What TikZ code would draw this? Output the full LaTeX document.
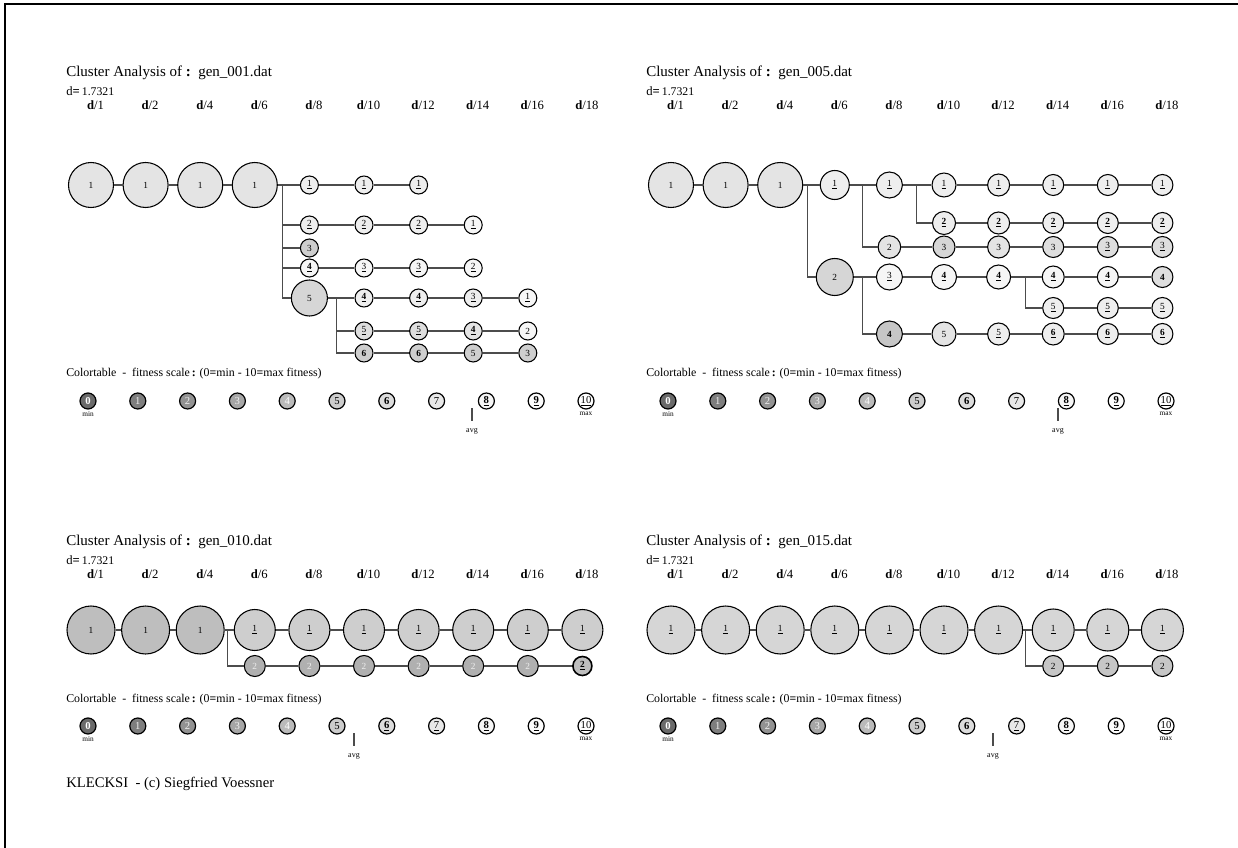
\documentclass[tikz,border=0pt]{standalone}
\usepackage{fontspec}
\setmainfont{Liberation Serif}
\definecolor{c0}{HTML}{6A6A6A}
\definecolor{c1}{HTML}{7E7E7E}
\definecolor{c2}{HTML}{929292}
\definecolor{c3}{HTML}{A6A6A6}
\definecolor{c4}{HTML}{BABABA}
\definecolor{c5}{HTML}{CCCCCC}
\definecolor{c6}{HTML}{DCDCDC}
\definecolor{c7}{HTML}{E8E8E8}
\definecolor{c8}{HTML}{F6F6F6}
\definecolor{c9}{HTML}{FCFCFC}
\definecolor{c10}{HTML}{FFFFFF}
\definecolor{lt}{HTML}{EEEEEE}
\definecolor{t0}{HTML}{F6F6F6}
\definecolor{t1}{HTML}{EEEEEE}
\definecolor{t2}{HTML}{E4E4E4}
\definecolor{t3}{HTML}{DEDEDE}
\definecolor{t4}{HTML}{D6D6D6}
\definecolor{t5}{HTML}{CECECE}
\definecolor{t6}{HTML}{C6C6C6}
\definecolor{t7}{HTML}{BEBEBE}
\definecolor{t8}{HTML}{B0B0B0}
\newcommand\ulab[1]{\underline{#1}}
\newcommand\blab[1]{\textbf{#1}}
\newcommand\bulab[1]{\underline{\textbf{#1}}}
\newcommand\panelhead[4]{%
  \node[ttl] (#1title) at ({66+#2},{#3}) {Cluster Analysis of \textbf{:}\ \ gen\_#4.dat};
  \node[dval] (#1dval) at ({66+#2},{#3+19}) {d\textbf{=}\,{\fontsize{8.8}{9}\selectfont 1.7321}};
  \foreach \k/\t in {0/1,1/2,2/4,3/6,4/8,5/10,6/12,7/14,8/16,9/18}
    \node[hd] (#1h\k) at ({95.5+#2+54.6*\k},{#3+33}) {\textbf{d}/\t};
}
\newcommand\ctable[5]{%
  \node[cttl] (#1ctt) at ({66+#2},{#3}) {Colortable~ - ~fitness scale\,\textbf{:} (0\textbf{=}min - 10\textbf{=}max fitness)};
  \foreach \i/\fc/\tc/\w in {0/c0/white/1,1/c1/lt/0,2/c2/lt/0,3/c3/lt/0,4/c4/white/0,5/c5/black/0,6/c6/black/1,7/c7/black/0,8/c8/black/1,9/c9/black/1,10/c10/black/0}
    \node[ct,fill=\fc,text=\tc] (#1k\i) at ({88+#2+49.8*\i},{#3+24}) {\ifnum\w=1 \bfseries\fi\ifnum\i<#5 \i\else\underline{\i}\fi};
  \node[tiny] (#1min) at ({88+#2},{#3+37}) {min};
  \node[tiny] (#1max) at ({586+#2},{#3+37}) {max};
  \coordinate (#1at) at ({#4},{#3+31});
  \coordinate (#1ab) at ({#4},{#3+44});
  \draw[ln] (#1at) -- (#1ab);
  \node[tiny,font=\fontsize{6}{7}\selectfont] (#1avg) at ({#4},{#3+54}) {avg};
}
\begin{document}
\begin{tikzpicture}[x=0.75pt,y=-0.75pt,
  cn/.style 2 args={circle,draw=black,line width=0.8pt,inner sep=0pt,minimum size={1.5pt*#1},fill=#2,font=\fontsize{7}{8}\selectfont},
  ct/.style={circle,draw=black,line width=0.9pt,inner sep=0pt,minimum size=12pt,font=\fontsize{8}{9}\selectfont},
  ln/.style={draw=black!70,line width=0.8pt},
  ttl/.style={anchor=base west,inner sep=0pt,font=\fontsize{11.25}{13}\selectfont},
  dval/.style={anchor=base west,inner sep=0pt,font=\fontsize{9.5}{10}\selectfont},
  hd/.style={anchor=base,inner sep=0pt,font=\fontsize{9.5}{11}\selectfont},
  cttl/.style={anchor=base west,inner sep=0pt,font=\fontsize{8.9}{10}\selectfont},
  tiny/.style={inner sep=0pt,font=\fontsize{5.5}{6}\selectfont},
]
\useasboundingbox (0,0) rectangle (1238,848);
\draw[line width=1.6pt] (1238,4) -- (5,4) -- (5,848);

% ================= Panel 1 (gen_001) =================
\panelhead{A}{0}{77}{001}
\node[cn={22.5}{t2}] (A0) at (91,185) {1};
\node[cn={22.5}{t2}] (A1) at (145.6,185) {1};
\node[cn={22.5}{t2}] (A2) at (200.2,185) {1};
\node[cn={22.5}{t2}] (A3) at (254.8,185) {1};
\draw[ln] (A0) -- (A1) -- (A2) -- (A3);
\coordinate (Ab1) at (282.1,185);
\node[cn={9}{t1}] (Ar14) at (309.4,185) {\ulab{1}};
\node[cn={9}{t1}] (Ar15) at (364,185) {\ulab{1}};
\node[cn={9}{t1}] (Ar16) at (418.6,185) {\ulab{1}};
\draw[ln] (A3) -- (Ar14) -- (Ar15) -- (Ar16);
\node[cn={9}{t1}] (Ar24) at (309.4,225) {\ulab{2}};
\node[cn={9}{t1}] (Ar25) at (364,225) {\ulab{2}};
\node[cn={9}{t1}] (Ar26) at (418.6,225) {\ulab{2}};
\node[cn={9}{t0}] (Ar27) at (473.2,225) {\ulab{1}};
\draw[ln] (Ab1) |- (Ar24);
\draw[ln] (Ar24) -- (Ar25) -- (Ar26) -- (Ar27);
\node[cn={9}{t5}] (Ar34) at (309.4,248) {3};
\draw[ln] (Ab1) |- (Ar34);
\node[cn={9}{t0}] (Ar44) at (309.4,268) {\bulab{4}};
\node[cn={9}{t0}] (Ar45) at (364,268) {\ulab{3}};
\node[cn={9}{t0}] (Ar46) at (418.6,268) {\ulab{3}};
\node[cn={9}{t0}] (Ar47) at (473.2,268) {\ulab{2}};
\draw[ln] (Ab1) |- (Ar44);
\draw[ln] (Ar44) -- (Ar45) -- (Ar46) -- (Ar47);
\node[cn={18}{t4}] (Ar54) at (309.4,298) {5};
\draw[ln] (Ab1) |- (Ar54);
\coordinate (Ab2) at (336.7,298);
\node[cn={9}{t1}] (As15) at (364,298) {\bulab{4}};
\node[cn={9}{t1}] (As16) at (418.6,298) {\bulab{4}};
\node[cn={9}{t1}] (As17) at (473.2,298) {\ulab{3}};
\node[cn={9}{t0}] (As18) at (527.8,298) {\ulab{1}};
\draw[ln] (Ar54) -- (As15) -- (As16) -- (As17) -- (As18);
\node[cn={9}{t3}] (As25) at (364,331) {\ulab{5}};
\node[cn={9}{t3}] (As26) at (418.6,331) {\ulab{5}};
\node[cn={9}{t2}] (As27) at (473.2,331) {\bulab{4}};
\node[cn={9}{t0}] (As28) at (527.8,331) {2};
\draw[ln] (Ab2) |- (As25);
\draw[ln] (As25) -- (As26) -- (As27) -- (As28);
\node[cn={9}{t5}] (As35) at (364,353) {\blab{6}};
\node[cn={9}{t5}] (As36) at (418.6,353) {\blab{6}};
\node[cn={9}{t5}] (As37) at (473.2,353) {5};
\node[cn={9}{t5}] (As38) at (527.8,353) {3};
\draw[ln] (Ab2) |- (As35);
\draw[ln] (As35) -- (As36) -- (As37) -- (As38);
\ctable{A}{0}{377}{472}{8}

% ================= Panel 2 (gen_005) =================
\panelhead{Q}{580}{77}{005}
\node[cn={22.5}{t2}] (Q0) at (671,185) {1};
\node[cn={22.5}{t2}] (Q1) at (725.6,185) {1};
\node[cn={22.5}{t2}] (Q2) at (780.2,185) {1};
\draw[ln] (Q0) -- (Q1) -- (Q2);
\coordinate (Qb1) at (807.5,185);
\node[cn={14.5}{t1}] (QA3) at (834.8,185) {\ulab{1}};
\node[cn={18.5}{t4}] (QD3) at (834.8,277) {2};
\draw[ln] (Q2) -- (QA3);
\draw[ln] (Qb1) |- (QD3);
\coordinate (Qb2) at (862.1,185);
\node[cn={13}{t1}] (QA4) at (889.4,185) {\ulab{1}};
\node[cn={11.3}{t2}] (QC4) at (889.4,247) {2};
\draw[ln] (QA3) -- (QA4);
\draw[ln] (Qb2) |- (QC4);
\coordinate (Qb3) at (916.7,185);
\node[cn={12}{t1}] (QA5) at (944,185) {\ulab{1}};
\node[cn={11}{t1}] (QA6) at (998.6,185) {\ulab{1}};
\node[cn={10.5}{t1}] (QA7) at (1053.2,185) {\ulab{1}};
\node[cn={10.5}{t1}] (QA8) at (1107.8,185) {\ulab{1}};
\node[cn={10.5}{t1}] (QA9) at (1162.4,185) {\ulab{1}};
\draw[ln] (QA4) -- (QA5) -- (QA6) -- (QA7) -- (QA8) -- (QA9);
\node[cn={11.5}{t1}] (QB5) at (944,223) {\bulab{2}};
\node[cn={11}{t1}] (QB6) at (998.6,223) {\bulab{2}};
\node[cn={10.5}{t1}] (QB7) at (1053.2,223) {\bulab{2}};
\node[cn={10.5}{t1}] (QB8) at (1107.8,223) {\bulab{2}};
\node[cn={10.5}{t1}] (QB9) at (1162.4,223) {\bulab{2}};
\draw[ln] (Qb3) |- (QB5);
\draw[ln] (QB5) -- (QB6) -- (QB7) -- (QB8) -- (QB9);
\node[cn={11}{t4}] (QC5) at (944,247) {3};
\node[cn={11}{t2}] (QC6) at (998.6,247) {3};
\node[cn={10.5}{t3}] (QC7) at (1053.2,247) {3};
\node[cn={10.5}{t3}] (QC8) at (1107.8,247) {\ulab{3}};
\node[cn={10.5}{t3}] (QC9) at (1162.4,247) {\ulab{3}};
\draw[ln] (QC4) -- (QC5) -- (QC6) -- (QC7) -- (QC8) -- (QC9);
\coordinate (Qb4) at (862.1,277);
\node[cn={13}{t0}] (QD4) at (889.4,277) {\ulab{3}};
\node[cn={12.5}{t0}] (QD5) at (944,277) {\bulab{4}};
\node[cn={12}{t0}] (QD6) at (998.6,277) {\bulab{4}};
\draw[ln] (QD3) -- (QD4) -- (QD5) -- (QD6);
\coordinate (Qb5) at (1025.9,277);
\node[cn={11}{t0}] (QD7) at (1053.2,277) {\bulab{4}};
\node[cn={10.5}{t0}] (QD8) at (1107.8,277) {\bulab{4}};
\node[cn={10.5}{t3}] (QD9) at (1162.4,277) {\blab{4}};
\draw[ln] (QD6) -- (QD7) -- (QD8) -- (QD9);
\node[cn={10.5}{t1}] (QE7) at (1053.2,308) {\ulab{5}};
\node[cn={10.5}{t1}] (QE8) at (1107.8,308) {\ulab{5}};
\node[cn={10.5}{t1}] (QE9) at (1162.4,308) {\ulab{5}};
\draw[ln] (Qb5) |- (QE7);
\draw[ln] (QE7) -- (QE8) -- (QE9);
\node[cn={13}{t6}] (QF4) at (889.4,334) {\blab{4}};
\node[cn={12}{t2}] (QF5) at (944,334) {5};
\node[cn={11}{t1}] (QF6) at (998.6,334) {\ulab{5}};
\node[cn={11}{t1}] (QF7) at (1053.2,334) {\bulab{6}};
\node[cn={10.5}{t1}] (QF8) at (1107.8,334) {\bulab{6}};
\node[cn={10.5}{t1}] (QF9) at (1162.4,334) {\bulab{6}};
\draw[ln] (Qb4) |- (QF4);
\draw[ln] (QF4) -- (QF5) -- (QF6) -- (QF7) -- (QF8) -- (QF9);
\ctable{Q}{580}{377}{1058}{8}

% ================= Panel 3 (gen_010) =================
\panelhead{M}{0}{545}{010}
\node[cn={24}{t7}] (M0) at (91,630) {1};
\node[cn={24}{t7}] (M1) at (145.6,630) {1};
\node[cn={24}{t7}] (M2) at (200.2,630) {1};
\coordinate (Mb) at (227.5,630);
\node[cn={20.5}{t5}] (M3) at (254.8,630) {\ulab{1}};
\node[cn={20.5}{t5}] (M4) at (309.4,630) {\ulab{1}};
\node[cn={20.5}{t5}] (M5) at (364,630) {\ulab{1}};
\node[cn={20.5}{t5}] (M6) at (418.6,630) {\ulab{1}};
\node[cn={20.5}{t5}] (M7) at (473.2,630) {\ulab{1}};
\node[cn={20.5}{t5}] (M8) at (527.8,630) {\ulab{1}};
\node[cn={20.5}{t5}] (M9) at (582.4,630) {\ulab{1}};
\draw[ln] (M0) -- (M1) -- (M2) -- (M3) -- (M4) -- (M5) -- (M6) -- (M7) -- (M8) -- (M9);
\node[cn={10.5}{t8},text=lt] (N3) at (254.8,666) {2};
\node[cn={10.5}{t8},text=lt] (N4) at (309.4,666) {2};
\node[cn={10.5}{t8},text=lt] (N5) at (364,666) {2};
\node[cn={10.5}{t8},text=lt] (N6) at (418.6,666) {2};
\node[cn={10.5}{t8},text=lt] (N7) at (473.2,666) {2};
\node[cn={10.5}{t8},text=lt] (N8) at (527.8,666) {2};
\node[cn={9.5}{t7},line width=1.2pt] (N9) at (582.4,666) {\bulab{2}};
\draw[ln] (Mb) |- (N3);
\draw[ln] (N3) -- (N4) -- (N5) -- (N6) -- (N7) -- (N8) -- (N9);
\ctable{M}{0}{702}{354}{6}

% ================= Panel 4 (gen_015) =================
\panelhead{P}{580}{545}{015}
\node[cn={24}{t4}] (P0) at (671,630) {\ulab{1}};
\node[cn={24}{t4}] (P1) at (725.6,630) {\ulab{1}};
\node[cn={24}{t4}] (P2) at (780.2,630) {\ulab{1}};
\node[cn={24}{t4}] (P3) at (834.8,630) {\ulab{1}};
\node[cn={24}{t4}] (P4) at (889.4,630) {\ulab{1}};
\node[cn={24}{t4}] (P5) at (944,630) {\ulab{1}};
\node[cn={24}{t4}] (P6) at (998.6,630) {\ulab{1}};
\coordinate (Pb) at (1025.9,630);
\node[cn={21}{t4}] (P7) at (1053.2,630) {\ulab{1}};
\node[cn={21}{t4}] (P8) at (1107.8,630) {\ulab{1}};
\node[cn={21}{t4}] (P9) at (1162.4,630) {\ulab{1}};
\draw[ln] (P0) -- (P1) -- (P2) -- (P3) -- (P4) -- (P5) -- (P6) -- (P7) -- (P8) -- (P9);
\node[cn={10.5}{t6}] (S7) at (1053.2,666) {2};
\node[cn={10.5}{t6}] (S8) at (1107.8,666) {2};
\node[cn={10.5}{t6}] (S9) at (1162.4,666) {2};
\draw[ln] (Pb) |- (S7);
\draw[ln] (S7) -- (S8) -- (S9);
\ctable{P}{580}{702}{993}{7}

\node[anchor=base west,inner sep=0pt,font=\fontsize{11}{13}\selectfont] (klecksi) at (66,787) {KLECKSI~ - (c) Siegfried Voessner};
\end{tikzpicture}
\end{document}
